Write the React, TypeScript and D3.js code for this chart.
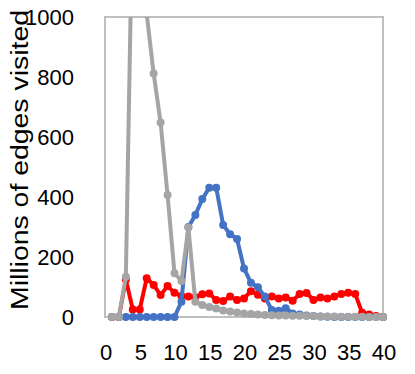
import { useEffect, useRef } from "react"
import * as d3 from "d3"

// x = 1..40
const xs = d3.range(1, 41)
const redVals = [0, 0, 125, 25, 25, 129, 107, 73, 103, 81, 70, 68, 66, 76, 78, 57, 53, 68, 57, 62, 86, 74, 62, 68, 62, 65, 54, 77, 80, 57, 65, 62, 68, 77, 81, 77, 14, 8, 3, 0]
const blueVals = [0, 0, 0, 0, 0, 0, 0, 0, 0, 0, 51, 300, 340, 393, 431, 431, 307, 276, 260, 162, 114, 99, 68, 23, 21, 29, 12, 8, 5, 3, 2, 1, 0, 0, 0, 0, 0, 0, 0, 0]
const grayVals = [0, 0, 134, 1420, 1500, 1010, 812, 648, 407, 146, 120, 298, 51, 40, 33, 28, 22, 18, 15, 12, 10, 8, 7, 6, 5, 5, 4, 4, 3, 3, 2, 2, 2, 1, 1, 1, 1, 0, 0, 0]
const xTicks = [0, 5, 10, 15, 20, 25, 30, 35, 40]
const yTicks = [0, 200, 400, 600, 800, 1000]

const series = [
  { name: "red", color: "#FF0000", values: redVals },
  { name: "blue", color: "#4472C4", values: blueVals },
  { name: "gray", color: "#A5A5A5", values: grayVals },
]

const App = () => {
  const svgRef = useRef(null)

  useEffect(() => {
    const width = 415
    const height = 374
    const margin = { top: 17, right: 32, bottom: 57, left: 105 }
    const font = "'Liberation Sans', Arial, sans-serif"

    const svg = d3.select(svgRef.current)
    svg.selectAll("*").remove()

    const x = d3.scaleLinear().domain([0, 40]).range([margin.left, width - margin.right])
    const y = d3.scaleLinear().domain([0, 1000]).range([height - margin.bottom, margin.top])

    svg
      .append("defs")
      .append("clipPath")
      .attr("id", "plot-clip")
      .append("rect")
      .attr("x", margin.left - 6)
      .attr("y", margin.top)
      .attr("width", width - margin.left - margin.right + 12)
      .attr("height", height - margin.top - margin.bottom + 6)

    // plot frame
    svg
      .append("rect")
      .attr("x", margin.left)
      .attr("y", margin.top)
      .attr("width", width - margin.left - margin.right)
      .attr("height", height - margin.top - margin.bottom)
      .attr("fill", "none")
      .attr("stroke", "#BFBFBF")
      .attr("stroke-width", 2)

    const plot = svg.append("g").attr("clip-path", "url(#plot-clip)")
    const line = d3
      .line()
      .x((d) => x(d[0]))
      .y((d) => y(d[1]))

    series.forEach((s) => {
      const pts = xs.map((v, i) => [v, s.values[i]])
      plot
        .append("path")
        .attr("d", line(pts))
        .attr("fill", "none")
        .attr("stroke", s.color)
        .attr("stroke-width", 4)
        .attr("stroke-linejoin", "round")
      plot
        .selectAll(null)
        .data(pts)
        .enter()
        .append("circle")
        .attr("cx", (d) => x(d[0]))
        .attr("cy", (d) => y(d[1]))
        .attr("r", 4)
        .attr("fill", s.color)
    })

    // y tick labels
    svg
      .selectAll(".ytick")
      .data(yTicks)
      .enter()
      .append("text")
      .attr("x", 74)
      .attr("y", (d) => y(d) + 7.5)
      .attr("text-anchor", "end")
      .style("font-family", font)
      .style("font-size", "22px")
      .text((d) => d)

    // x tick labels
    svg
      .selectAll(".xtick")
      .data(xTicks)
      .enter()
      .append("text")
      .attr("x", (d) => x(d) + 1)
      .attr("y", 360)
      .attr("text-anchor", "middle")
      .style("font-family", font)
      .style("font-size", "22px")
      .text((d) => d)

    // y axis title
    svg
      .append("text")
      .attr("transform", "translate(28,160) rotate(-90)")
      .attr("text-anchor", "middle")
      .attr("textLength", 300)
      .attr("lengthAdjust", "spacingAndGlyphs")
      .style("font-family", font)
      .style("font-size", "23px")
      .text("Millions of edges visited")
  }, [])

  return <svg ref={svgRef} width={415} height={374} style={{ position: "absolute", left: 0, top: 0, background: "#fff" }}></svg>
}

export default App
